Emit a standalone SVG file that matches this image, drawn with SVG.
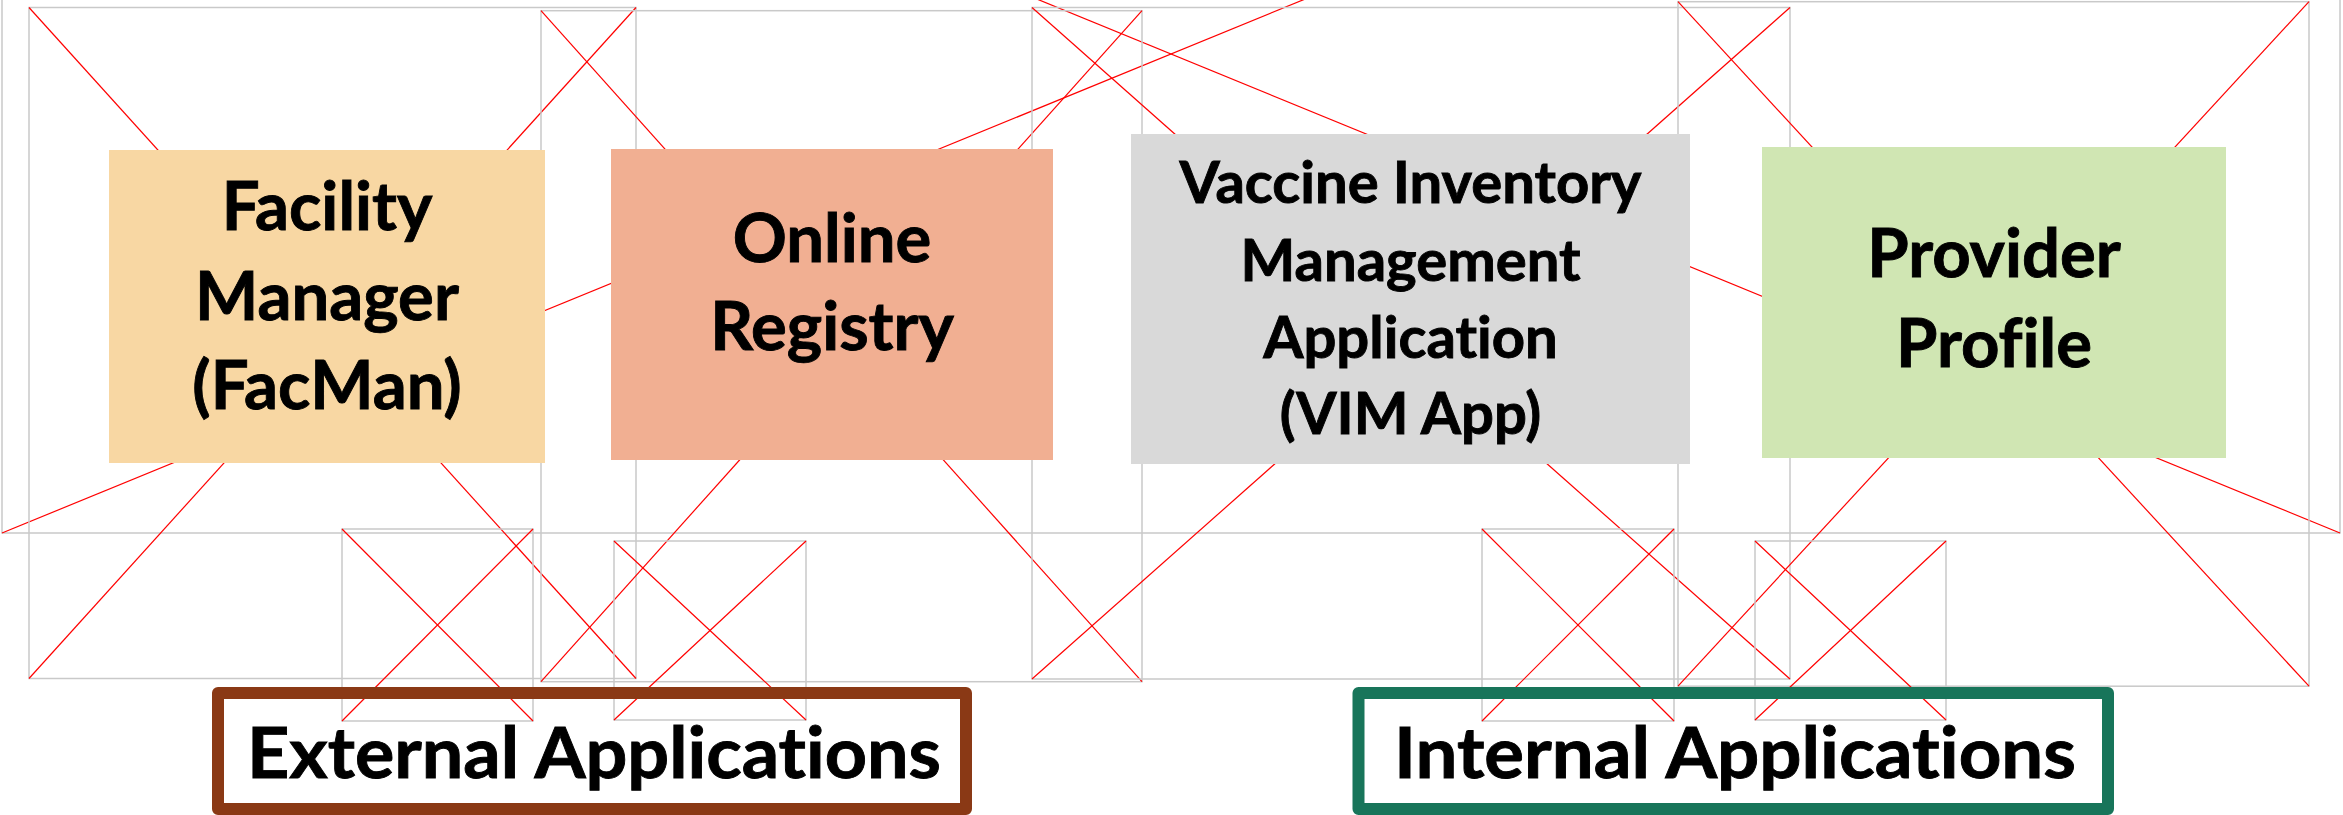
<svg xmlns="http://www.w3.org/2000/svg" width="2343" height="815" viewBox="0 0 2343 815">
<style>
.ph rect{fill:none;stroke:#C9C9C9;stroke-width:1.5}
.ph line{stroke:#FF0000;stroke-width:1.2}
.lbl{font-family:Lato,"Open Sans","Liberation Sans",sans-serif;font-weight:bold;fill:#000;stroke:#000;stroke-width:0.9;text-anchor:middle;font-variant-ligatures:none;font-feature-settings:"liga" 0,"dlig" 0}
.big{font-size:67px}
.mid{font-size:58px}
.cat{font-size:71px}
.frame{fill:none;stroke-width:12;stroke-linejoin:round}
</style>
<rect width="2343" height="815" fill="#FFFFFF"/>
<g id="placeholders" class="ph">
  <g id="ph-a"><rect x="2" y="-425" width="2338" height="958"/><line x1="2" y1="-425" x2="2340" y2="533"/><line x1="2" y1="533" x2="2340" y2="-425"/></g>
  <g id="ph-b"><rect x="29" y="7.5" width="607" height="671"/><line x1="29" y1="7.5" x2="636" y2="678.5"/><line x1="29" y1="678.5" x2="636" y2="7.5"/></g>
  <g id="ph-c"><rect x="541" y="10.7" width="601" height="671"/><line x1="541" y1="10.7" x2="1142" y2="681.7"/><line x1="541" y1="681.7" x2="1142" y2="10.7"/></g>
  <g id="ph-d"><rect x="1032" y="7.5" width="758" height="671.5"/><line x1="1032" y1="7.5" x2="1790" y2="679"/><line x1="1032" y1="679" x2="1790" y2="7.5"/></g>
  <g id="ph-e"><rect x="1678" y="1.7" width="631" height="684.5"/><line x1="1678" y1="1.7" x2="2309" y2="686.2"/><line x1="1678" y1="686.2" x2="2309" y2="1.7"/></g>
  <g id="ph-f"><rect x="342" y="529" width="191" height="192"/><line x1="342" y1="529" x2="533" y2="721"/><line x1="342" y1="721" x2="533" y2="529"/></g>
  <g id="ph-g"><rect x="614" y="541" width="192" height="179"/><line x1="614" y1="541" x2="806" y2="720"/><line x1="614" y1="720" x2="806" y2="541"/></g>
  <g id="ph-h"><rect x="1482" y="529" width="192" height="192"/><line x1="1482" y1="529" x2="1674" y2="721"/><line x1="1482" y1="721" x2="1674" y2="529"/></g>
  <g id="ph-i"><rect x="1755" y="541" width="191" height="179"/><line x1="1755" y1="541" x2="1946" y2="720"/><line x1="1755" y1="720" x2="1946" y2="541"/></g>
</g>
<g id="facman">
  <rect x="109" y="150" width="436" height="313" fill="#F8D7A3"/>
  <text class="lbl big" x="327" y="230">Facility</text>
  <text class="lbl big" x="327" y="320">Manager</text>
  <text class="lbl big" x="327" y="409">(FacMan)</text>
</g>
<g id="online-registry">
  <rect x="611" y="149" width="442" height="311" fill="#F1AF92"/>
  <text class="lbl big" x="832" y="262">Online</text>
  <text class="lbl big" x="832" y="350">Registry</text>
</g>
<g id="vim-app">
  <rect x="1131" y="134" width="559" height="330" fill="#D9D9D9"/>
  <text class="lbl mid" x="1410.5" y="203">Vaccine Inventory</text>
  <text class="lbl mid" x="1410.5" y="281">Management</text>
  <text class="lbl mid" x="1410.5" y="358">Application</text>
  <text class="lbl mid" x="1410.5" y="434">(VIM App)</text>
</g>
<g id="provider-profile">
  <rect x="1762" y="147" width="464" height="311" fill="#D0E6B3"/>
  <text class="lbl big" x="1994" y="277">Provider</text>
  <text class="lbl big" x="1994" y="367">Profile</text>
</g>
<g id="external-applications">
  <rect class="frame" x="218" y="693" width="748" height="116" stroke="#8A3915"/>
  <text class="lbl cat" x="594" y="778" textLength="694" lengthAdjust="spacingAndGlyphs">External Applications</text>
</g>
<g id="internal-applications">
  <rect class="frame" x="1358.5" y="693" width="749.5" height="116" stroke="#18755A"/>
  <text class="lbl cat" x="1735" y="778" textLength="682" lengthAdjust="spacingAndGlyphs">Internal Applications</text>
</g>
</svg>
